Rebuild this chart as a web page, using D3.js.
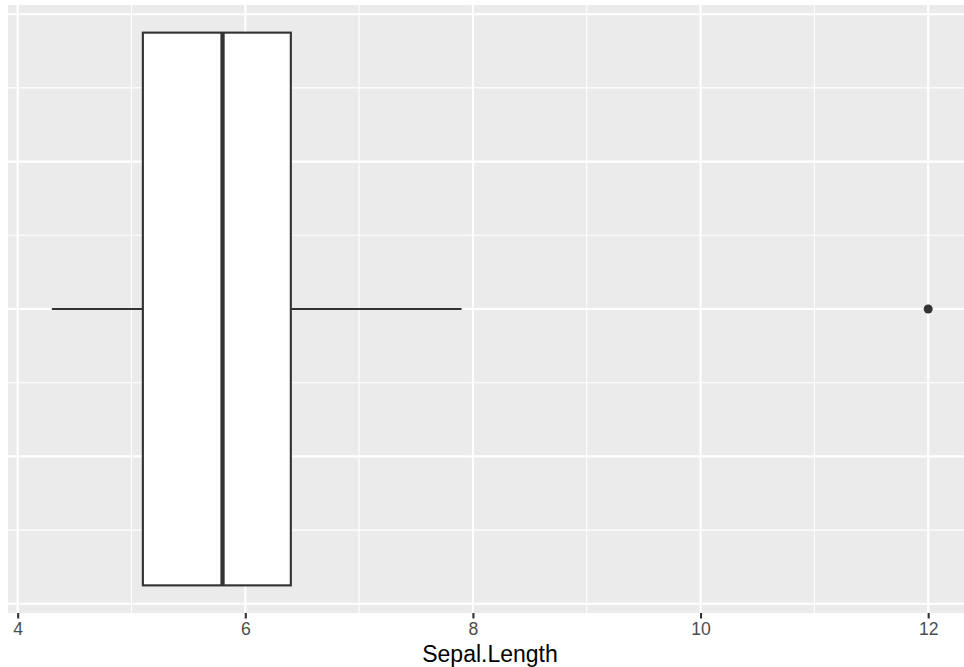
<!DOCTYPE html>
<html>
<head>
<meta charset="utf-8">
<script src="https://cdn.jsdelivr.net/npm/d3@7"></script>
<style>
html,body{margin:0;padding:0;background:#fff;overflow:hidden;width:964px;height:667px;}
svg{display:block;overflow:hidden;}
text{font-family:"Liberation Sans",Arial,Helvetica,sans-serif;}
</style>
</head>
<body>
<svg id="chart" width="964" height="667"></svg>
<script>
// Data (boxplot summary of Sepal.Length)
const statNames = ["min", "q1", "median", "q3", "max"];
const statValues = [4.3, 5.1, 5.8, 6.4, 7.9];
const outliers = [12];
const xTicks = [4, 6, 8, 10, 12];
const xMinorTicks = [5, 7, 9, 11];
const yTicks = [-0.4, -0.2, 0, 0.2, 0.4];
const yMinorTicks = [-0.3, -0.1, 0.1, 0.3];
const boxHalfWidth = 0.375;
const xTitle = "Sepal.Length";

const s = {};
statNames.forEach((n, i) => s[n] = statValues[i]);

const W = 964, H = 667;
const svg = d3.select("#chart");
const panel = {left: 8, right: 972, top: 5, bottom: 613};

svg.append("defs").append("clipPath").attr("id", "clipView")
  .append("rect").attr("x", 0).attr("y", 0).attr("width", W).attr("height", H);
const root = svg.append("g").attr("clip-path", "url(#clipView)");

const allX = statValues.concat(outliers);
const xmin = d3.min(allX), xmax = d3.max(allX);
const xpad = (xmax - xmin) * 0.05;
const x = d3.scaleLinear().domain([xmin - xpad, xmax + xpad]).range([panel.left, panel.right]);
const ypad = boxHalfWidth * 2 * 0.05;
const y = d3.scaleLinear().domain([-boxHalfWidth - ypad, boxHalfWidth + ypad]).range([panel.bottom, panel.top]);

const xr = Math.min(panel.right, W);

// panel background
root.append("rect")
  .attr("x", panel.left).attr("y", panel.top)
  .attr("width", xr - panel.left).attr("height", panel.bottom - panel.top)
  .attr("fill", "#EBEBEB");

const grid = root.append("g");
grid.selectAll(".vminor").data(xMinorTicks).enter().append("line")
  .attr("x1", d => x(d)).attr("x2", d => x(d))
  .attr("y1", panel.top).attr("y2", panel.bottom)
  .attr("stroke", "#fff").attr("stroke-width", 1.07);
grid.selectAll(".hminor").data(yMinorTicks).enter().append("line")
  .attr("x1", panel.left).attr("x2", xr)
  .attr("y1", d => y(d)).attr("y2", d => y(d))
  .attr("stroke", "#fff").attr("stroke-width", 1.07);
grid.selectAll(".vmajor").data(xTicks).enter().append("line")
  .attr("x1", d => x(d)).attr("x2", d => x(d))
  .attr("y1", panel.top).attr("y2", panel.bottom)
  .attr("stroke", "#fff").attr("stroke-width", 2.13);
grid.selectAll(".hmajor").data(yTicks).enter().append("line")
  .attr("x1", panel.left).attr("x2", xr)
  .attr("y1", d => y(d)).attr("y2", d => y(d))
  .attr("stroke", "#fff").attr("stroke-width", 2.13);

const col = "#333333";
const box = root.append("g");
box.append("line")
  .attr("x1", x(s.min)).attr("x2", x(s.q1))
  .attr("y1", y(0)).attr("y2", y(0))
  .attr("stroke", col).attr("stroke-width", 2.13);
box.append("line")
  .attr("x1", x(s.q3)).attr("x2", x(s.max))
  .attr("y1", y(0)).attr("y2", y(0))
  .attr("stroke", col).attr("stroke-width", 2.13);
box.append("rect")
  .attr("x", x(s.q1)).attr("y", y(boxHalfWidth))
  .attr("width", x(s.q3) - x(s.q1))
  .attr("height", y(-boxHalfWidth) - y(boxHalfWidth))
  .attr("fill", "#fff").attr("stroke", col).attr("stroke-width", 2.13);
box.append("line")
  .attr("x1", x(s.median)).attr("x2", x(s.median))
  .attr("y1", y(boxHalfWidth)).attr("y2", y(-boxHalfWidth))
  .attr("stroke", col).attr("stroke-width", 4.26);
box.selectAll(".out").data(outliers).enter().append("circle")
  .attr("cx", d => x(d)).attr("cy", y(0)).attr("r", 4.5)
  .attr("fill", col);

// x axis
const xAxis = d3.axisBottom(x).tickValues(xTicks).tickSize(5.5).tickPadding(4).tickFormat(d3.format("d"));
const ax = root.append("g").attr("transform", `translate(0,${panel.bottom})`).call(xAxis);
ax.select(".domain").remove();
ax.selectAll(".tick line").attr("stroke", col).attr("stroke-width", 2.13);
ax.selectAll(".tick text").attr("fill", "#4D4D4D").attr("font-size", "17.6px")
  .attr("font-family", "'Liberation Sans',Arial,Helvetica,sans-serif");

// x title
root.append("text")
  .attr("x", (panel.left + panel.right) / 2).attr("y", 661.5)
  .attr("text-anchor", "middle").attr("font-size", "23px").attr("fill", "#000")
  .text(xTitle);
</script>
</body>
</html>
